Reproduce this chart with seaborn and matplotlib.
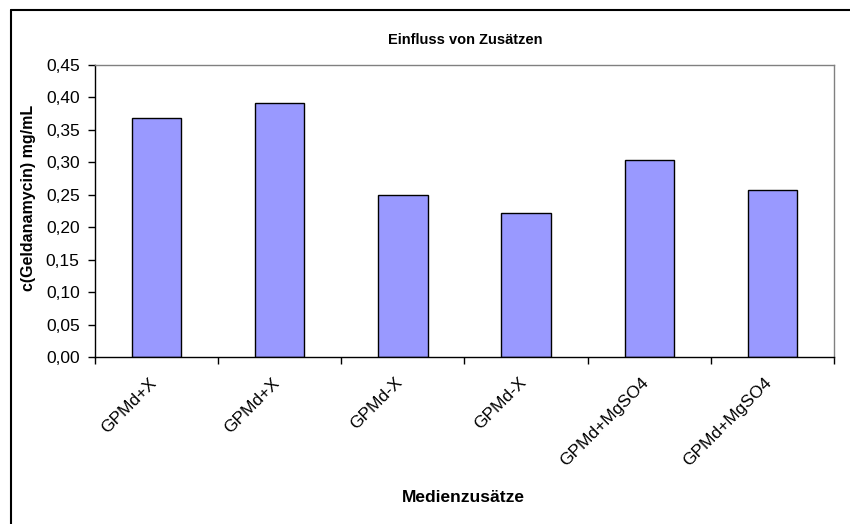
import numpy as np
import pandas as pd
import matplotlib
matplotlib.use("Agg")
import matplotlib.pyplot as plt
from matplotlib.lines import Line2D
from matplotlib.transforms import ScaledTranslation
import seaborn as sns

# Geldanamycin concentration per medium additive
categories = ["GPMd+X", "GPMd+X", "GPMd-X", "GPMd-X", "GPMd+MgSO4", "GPMd+MgSO4"]
concentration = [0.368, 0.391, 0.249, 0.222, 0.304, 0.258]
y_ticks = [0.00, 0.05, 0.10, 0.15, 0.20, 0.25, 0.30, 0.35, 0.40, 0.45]

sns.set_theme(style="white")
plt.rcParams["font.family"] = ["Liberation Sans", "DejaVu Sans"]
plt.rcParams["text.color"] = "black"
plt.rcParams["xtick.color"] = "black"
plt.rcParams["ytick.color"] = "black"
plt.rcParams["axes.labelcolor"] = "black"

df = pd.DataFrame({"idx": list(range(len(categories))), "c": concentration})

fig = plt.figure(figsize=(8.5, 5.24), dpi=100)
ax = fig.add_axes([95 / 850, 1 - 357 / 524, (834 - 95) / 850, (357 - 65) / 524])

sns.barplot(data=df, x="idx", y="c", color="#9999FF", saturation=1,
            edgecolor="black", linewidth=1.0, width=0.4, ax=ax)

ax.set_xlim(-0.5, len(categories) - 0.5)
ax.set_ylim(0, 0.45)
ax.set_yticks(y_ticks)
ax.set_yticklabels([f"{v:.2f}".replace(".", ",") for v in y_ticks], fontsize=12.5)
ax.tick_params(axis="y", direction="out", length=5, width=1, color="black", pad=6, left=True)

ax.set_xticks(np.arange(len(categories)))
ax.set_xticklabels(categories, rotation=45, ha="right", rotation_mode="anchor", fontsize=12.5)
ax.tick_params(axis="x", which="major", length=0, pad=13, bottom=True)
ax.set_xticks(np.arange(-0.5, len(categories), 1), minor=True)
ax.tick_params(axis="x", which="minor", direction="out", length=5, width=1, color="black", bottom=True)
shift = ScaledTranslation(-8 / 100, 0, fig.dpi_scale_trans)
for lbl in ax.get_xticklabels():
    lbl.set_transform(lbl.get_transform() + shift)

for side in ["top", "right"]:
    ax.spines[side].set_color("#808080")
    ax.spines[side].set_linewidth(1)
for side in ["left", "bottom"]:
    ax.spines[side].set_color("black")
    ax.spines[side].set_linewidth(1)

ax.set_xlabel("")
ax.set_ylabel("")
fig.text(465 / 850, 1 - 40 / 524, "Einfluss von Zusätzen", ha="center", va="center",
         fontsize=10.5, fontweight="bold")
fig.text(463 / 850, 1 - 498 / 524, "Medienzusätze", ha="center", va="center",
         fontsize=12.5, fontweight="bold")
fig.text(28 / 850, 1 - 198 / 524, "c(Geldanamycin) mg/mL", ha="center", va="center",
         rotation=90, fontsize=11.5, fontweight="bold")

# Chart-area frame: top and left edges only
fig.lines.append(Line2D([11 / 850, 1.0], [1 - 10 / 524, 1 - 10 / 524],
                        transform=fig.transFigure, color="black", linewidth=1.5))
fig.lines.append(Line2D([11 / 850, 11 / 850], [0.0, 1 - 10 / 524],
                        transform=fig.transFigure, color="black", linewidth=1.5))

fig.savefig("out.png", dpi=100)
